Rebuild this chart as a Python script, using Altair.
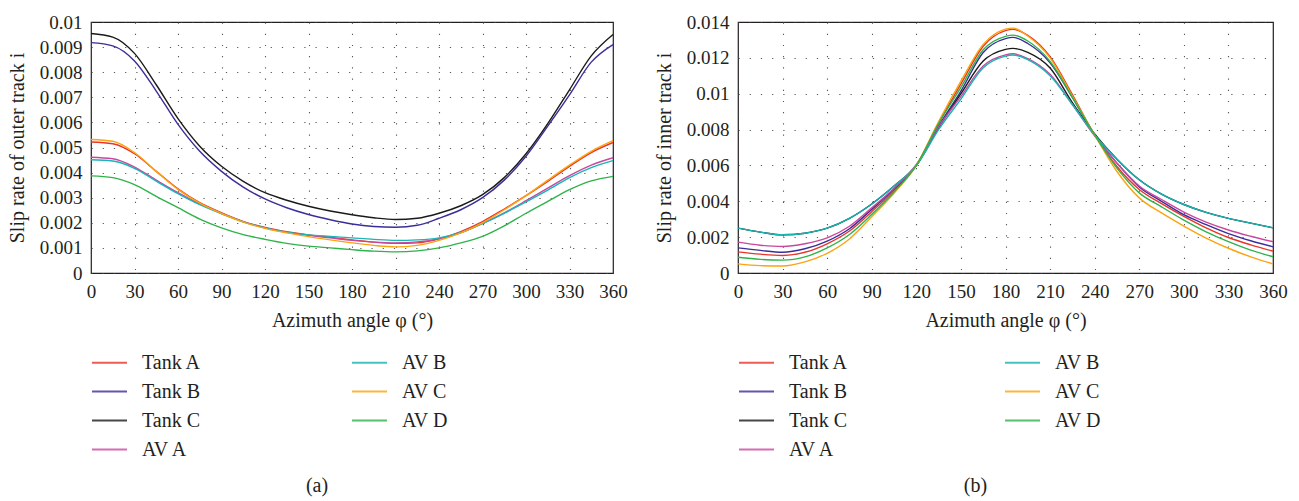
import altair as alt
import pandas as pd

FONT = "Liberation Serif"
INK = "#231f20"

# Azimuth angle samples (degrees)
angles_outer = [0, 15, 30, 45, 60, 75, 90, 105, 120, 135, 150, 165, 180,
                195, 210, 225, 240, 255, 270, 285, 300, 315, 330, 345, 360]
angles_inner = [0, 15, 30, 45, 60, 75, 90, 105, 120, 135, 150, 165, 180, 185,
                195, 210, 225, 240, 255, 270, 285, 300, 315, 330, 345, 360]

series_names = ["Tank A", "Tank B", "Tank C", "AV A", "AV B", "AV C", "AV D"]
series_colors = ["#e8352a", "#3a2e9a", "#1a1a1a", "#c9489f", "#17b5b5", "#fca311", "#2fb24a"]

# Slip rate of the outer track
outer_tank_a = [0.00522, 0.00515, 0.00475, 0.00405, 0.00335, 0.00280, 0.00240, 0.00205, 0.00182,
                0.00165, 0.00152, 0.00142, 0.00132, 0.00123, 0.00118, 0.00120, 0.00136, 0.00165,
                0.00205, 0.00255, 0.00308, 0.00365, 0.00425, 0.00480, 0.00520]
outer_tank_b = [0.00918, 0.00905, 0.00845, 0.00725, 0.00592, 0.00485, 0.00405, 0.00342, 0.00295,
                0.00260, 0.00233, 0.00212, 0.00195, 0.00185, 0.00182, 0.00190, 0.00218, 0.00252,
                0.00300, 0.00370, 0.00465, 0.00585, 0.00710, 0.00840, 0.00910]
outer_tank_c = [0.00954, 0.00940, 0.00875, 0.00750, 0.00615, 0.00505, 0.00425, 0.00365, 0.00320,
                0.00290, 0.00266, 0.00247, 0.00232, 0.00220, 0.00213, 0.00218, 0.00238, 0.00268,
                0.00312, 0.00380, 0.00475, 0.00595, 0.00730, 0.00865, 0.00950]
outer_av_a = [0.00461, 0.00455, 0.00422, 0.00370, 0.00320, 0.00275, 0.00238, 0.00205, 0.00180,
              0.00162, 0.00150, 0.00140, 0.00130, 0.00123, 0.00120, 0.00124, 0.00136, 0.00160,
              0.00198, 0.00240, 0.00288, 0.00338, 0.00388, 0.00430, 0.00459]
outer_av_b = [0.00451, 0.00446, 0.00417, 0.00366, 0.00316, 0.00272, 0.00236, 0.00204, 0.00180,
              0.00163, 0.00152, 0.00146, 0.00140, 0.00134, 0.00130, 0.00132, 0.00140, 0.00162,
              0.00197, 0.00238, 0.00283, 0.00330, 0.00380, 0.00420, 0.00448]
outer_av_c = [0.00532, 0.00525, 0.00480, 0.00405, 0.00333, 0.00278, 0.00237, 0.00203, 0.00178,
              0.00160, 0.00145, 0.00132, 0.00120, 0.00110, 0.00104, 0.00110, 0.00130, 0.00160,
              0.00200, 0.00252, 0.00308, 0.00370, 0.00430, 0.00485, 0.00527]
outer_av_d = [0.00387, 0.00380, 0.00352, 0.00305, 0.00260, 0.00215, 0.00180, 0.00153, 0.00134,
              0.00118, 0.00107, 0.00100, 0.00093, 0.00087, 0.00084, 0.00088, 0.00100, 0.00120,
              0.00146, 0.00188, 0.00238, 0.00285, 0.00332, 0.00367, 0.00385]

# Slip rate of the inner track
inner_tank_a = [0.00118, 0.00105, 0.00098, 0.00116, 0.00163, 0.00234, 0.00342, 0.00460, 0.00600,
                0.00835, 0.01055, 0.01265, 0.01352, 0.01359, 0.01325, 0.01206, 0.00995, 0.00770,
                0.00594, 0.00466, 0.00387, 0.00316, 0.00252, 0.00198, 0.00157, 0.00122]
inner_tank_b = [0.00140, 0.00126, 0.00116, 0.00135, 0.00178, 0.00247, 0.00355, 0.00468, 0.00600,
                0.00820, 0.01015, 0.01230, 0.01307, 0.01314, 0.01280, 0.01173, 0.00980, 0.00770,
                0.00613, 0.00480, 0.00400, 0.00325, 0.00270, 0.00220, 0.00180, 0.00146]
inner_tank_c = [0.00250, 0.00228, 0.00213, 0.00222, 0.00250, 0.00305, 0.00385, 0.00485, 0.00600,
                0.00810, 0.01000, 0.01182, 0.01247, 0.01253, 0.01230, 0.01143, 0.00950, 0.00775,
                0.00635, 0.00520, 0.00440, 0.00382, 0.00338, 0.00305, 0.00278, 0.00252]
inner_av_a = [0.00172, 0.00155, 0.00148, 0.00163, 0.00196, 0.00261, 0.00364, 0.00473, 0.00605,
              0.00815, 0.00985, 0.01155, 0.01217, 0.01223, 0.01196, 0.01108, 0.00940, 0.00765,
              0.00613, 0.00485, 0.00410, 0.00340, 0.00284, 0.00240, 0.00205, 0.00174]
inner_av_b = [0.00250, 0.00228, 0.00213, 0.00222, 0.00250, 0.00305, 0.00385, 0.00485, 0.00600,
              0.00800, 0.00970, 0.01145, 0.01210, 0.01216, 0.01190, 0.01100, 0.00940, 0.00770,
              0.00635, 0.00520, 0.00440, 0.00382, 0.00338, 0.00305, 0.00278, 0.00252]
inner_av_c = [0.00051, 0.00041, 0.00039, 0.00062, 0.00110, 0.00190, 0.00314, 0.00445, 0.00600,
              0.00845, 0.01070, 0.01275, 0.01360, 0.01366, 0.01322, 0.01200, 0.00987, 0.00770,
              0.00566, 0.00419, 0.00335, 0.00262, 0.00195, 0.00138, 0.00090, 0.00051]
inner_av_d = [0.00088, 0.00076, 0.00072, 0.00090, 0.00140, 0.00215, 0.00327, 0.00452, 0.00600,
              0.00835, 0.01035, 0.01245, 0.01320, 0.01327, 0.01294, 0.01180, 0.00980, 0.00770,
              0.00585, 0.00447, 0.00369, 0.00295, 0.00230, 0.00175, 0.00128, 0.00091]

outer_ticks = [0, 0.001, 0.002, 0.003, 0.004, 0.005, 0.006, 0.007, 0.008, 0.009, 0.01]
inner_ticks = [0, 0.002, 0.004, 0.006, 0.008, 0.010, 0.012, 0.014]
angle_ticks = [0, 30, 60, 90, 120, 150, 180, 210, 240, 270, 300, 330, 360]

outer_values = [outer_tank_a, outer_tank_b, outer_tank_c, outer_av_a, outer_av_b, outer_av_c, outer_av_d]
inner_values = [inner_tank_a, inner_tank_b, inner_tank_c, inner_av_a, inner_av_b, inner_av_c, inner_av_d]


def long_table(angles, values):
    rows = []
    for name, ys in zip(series_names, values):
        for a, v in zip(angles, ys):
            rows.append({"angle": a, "slip": v, "series": name})
    return pd.DataFrame(rows)


def panel(df, ticks, ymax, ytitle, label, width, col_pad, label_dx):
    return alt.Chart(df).mark_line(strokeWidth=1.4, interpolate="monotone").encode(
        x=alt.X("angle:Q",
                scale=alt.Scale(domain=[0, 360], nice=False),
                axis=alt.Axis(values=angle_ticks, title="Azimuth angle φ (°)",
                              labelFlush=False, labelPadding=9, titlePadding=9)),
        y=alt.Y("slip:Q",
                scale=alt.Scale(domain=[0, ymax], nice=False),
                axis=alt.Axis(values=ticks, format=".3~f", title=ytitle,
                              labelFlush=False, labelPadding=9, titlePadding=12)),
        color=alt.Color("series:N",
                        scale=alt.Scale(domain=series_names, range=series_colors),
                        legend=alt.Legend(orient="none", legendX=0, legendY=322,
                                          columns=2, title=None, padding=0,
                                          symbolType="stroke", symbolSize=1225,
                                          symbolStrokeWidth=2, symbolOpacity=0.8,
                                          labelFont=FONT, labelFontSize=20,
                                          labelColor=INK, labelOffset=14,
                                          rowPadding=-6.5, columnPadding=col_pad)),
        order=alt.Order("angle:Q"),
    ).properties(
        width=width, height=251,
        title=alt.TitleParams(label, orient="bottom", anchor="middle", font=FONT,
                              fontSize=20, fontWeight="normal", color=INK,
                              offset=16, dx=label_dx),
    )


left = panel(long_table(angles_outer, outer_values), outer_ticks, 0.01,
             "Slip rate of outer track i", "(a)", 522, 146, -35)
right = panel(long_table(angles_inner, inner_values), inner_ticks, 0.014,
              "Slip rate of inner track i", "(b)", 535, 152, -30)

chart = alt.hconcat(left, right, spacing=25).resolve_scale(color="independent").properties(
    padding={"left": 6, "top": 12, "right": 5, "bottom": 5},
    background="white",
).configure_view(
    stroke=INK, strokeWidth=1.2,
).configure_axis(
    domain=False, ticks=False,
    grid=True, gridColor="#444", gridWidth=1.1, gridDash=[1.2, 10], gridOpacity=0.9,
    labelFont=FONT, labelFontSize=19, labelColor=INK,
    titleFont=FONT, titleFontSize=20, titleColor=INK, titleFontWeight="normal",
)

chart.save("out.html", embed_options={"renderer": "svg", "actions": False})
